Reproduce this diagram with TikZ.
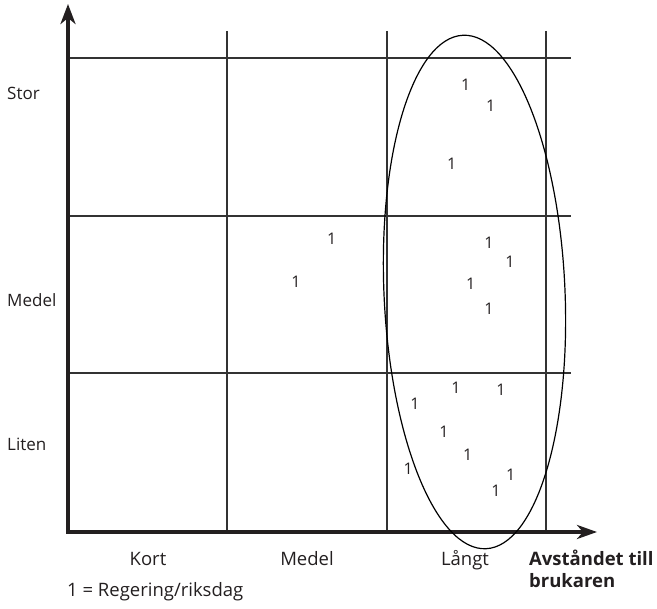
\documentclass[tikz,border=0pt]{standalone}
\usepackage{fontspec}
\setmainfont{Open Sans}
\usetikzlibrary{arrows.meta}
\definecolor{ink}{HTML}{231F20}
\definecolor{gridc}{HTML}{333333}
\begin{document}
\begin{tikzpicture}[x=1pt,y=-1pt,
  axis/.style={draw=ink,line width=3.5pt,line join=miter,
    {Stealth[length=20pt,width=15pt,inset=6pt]}-{Stealth[length=20pt,width=14pt,inset=6pt]}},
  gridline/.style={draw=gridc,line width=1.4pt},
  ring/.style={draw=black,line width=1.2pt},
  lab/.style={inner sep=0pt,font=\fontsize{18.5}{21}\selectfont,text=ink},
  sidelab/.style={lab,font=\fontsize{17}{20}\selectfont},
  boldlab/.style={lab,font=\fontsize{18.5}{21}\selectfont\bfseries},
  one/.style={inner sep=0pt,font=\fontsize{16}{18}\selectfont,text=ink}]
\useasboundingbox (0,0) rectangle (657,609);

% axes
\coordinate (O) at (68,532);
\coordinate (ytip) at (68,4);
\coordinate (xtip) at (597,532);

% grid lines
\foreach \y [count=\i] in {58,216,373}{
  \coordinate (hl\i) at (68,\y);
  \coordinate (hr\i) at (571,\y);
  \draw[gridline] (hl\i) -- (hr\i);
}
\foreach \x [count=\i] in {227,387,546}{
  \coordinate (vt\i) at (\x,31);
  \coordinate (vb\i) at (\x,532);
  \draw[gridline] (vt\i) -- (vb\i);
}
\draw[axis] (ytip) -- (O) -- (xtip);

% cluster ring
\coordinate (C) at (474.5,292);
\draw[ring,rotate around={2.56:(C)}] (C) ellipse [x radius=90.5, y radius=257];

% data points
\foreach \px/\py [count=\i] in {
  465.7/85, 490.7/106, 451.7/164,
  331.7/238.3, 296/281.7, 489/242.3, 510/261.7, 470.7/284, 489/309,
  456/387.3, 501/390, 415/404, 444/431.7, 467.7/455, 408.3/469, 510.7/475, 496/491}{
  \node[one] (p\i) at (\px,\py) {1};
}

% vertical axis labels
\node[sidelab,anchor=west] (stor) at (7,93) {Stor};
\node[sidelab,anchor=west] (medelY) at (7,300) {Medel};
\node[sidelab,anchor=west] (liten) at (7,444) {Liten};

% horizontal axis labels
\node[lab,anchor=base] (kort) at (148,566) {Kort};
\node[lab,anchor=base] (medelX) at (307,566) {Medel};
\node[lab,anchor=base] (langt) at (465,566) {Långt};
\node[boldlab,anchor=base west] (avst) at (529,566) {Avståndet till};
\node[boldlab,anchor=base west] (bruk) at (529,588) {brukaren};

% legend
\node[lab,anchor=base west] (legend) at (67,597) {1 = Regering/riksdag};
\end{tikzpicture}
\end{document}
